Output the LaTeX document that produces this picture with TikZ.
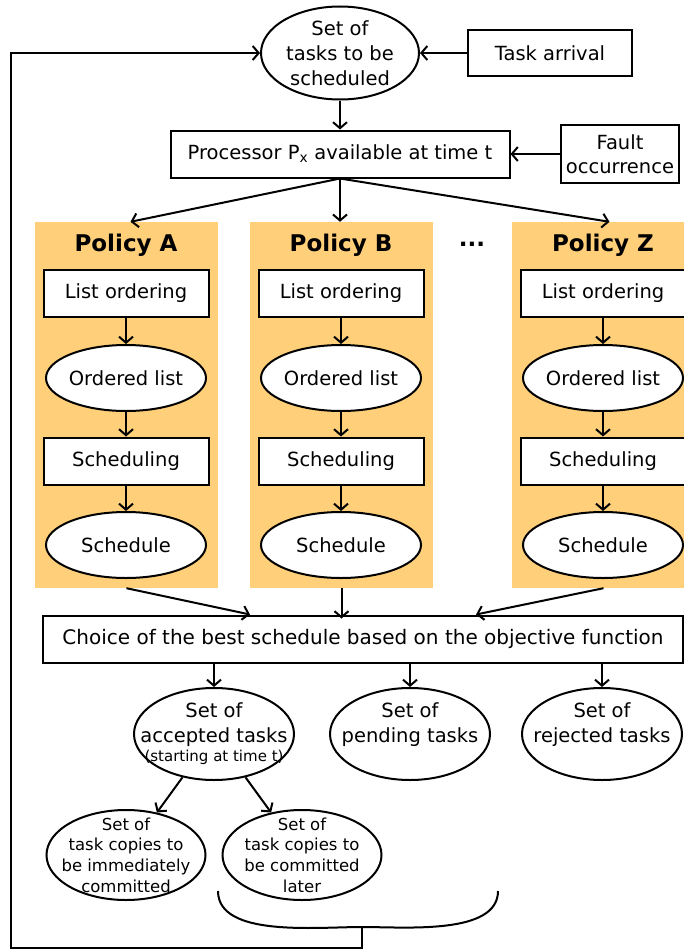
\documentclass[tikz,border=0pt]{standalone}
\usepackage{fontspec}
\setmainfont{DejaVu Sans}
\usetikzlibrary{positioning,shapes.geometric,arrows.meta}
\definecolor{policyfill}{HTML}{FFCF7A}
\tikzset{
  box/.style={draw,line width=2pt,fill=white,inner sep=0pt,align=center},
  oval/.style={ellipse,draw,line width=2pt,fill=white,inner sep=0pt},
  panel/.style={fill=policyfill,minimum width=183,minimum height=366,inner sep=0pt},
  flow/.style={line width=2pt,-{Straight Barb[length=6pt,width=14pt]}},
  txt/.style={align=center,inner sep=0pt},
  smalltxt/.style={align=center,inner sep=0pt,font=\fontsize{16.5}{20.7}\selectfont},
}
\begin{document}
\begin{tikzpicture}[x=1pt,y=-1pt,font=\fontsize{19.5}{25}\selectfont]
  \useasboundingbox (0,0) rectangle (684,950);
  \clip (0,0) rectangle (684,950);

  % top of the loop
  \node[oval,minimum width=158,minimum height=93,
        label={[txt]center:Set of\\tasks to be\\scheduled}] (tasks) at (340,53) {};
  \node[box,minimum width=164,minimum height=46] (arrival) at (550,53) {Task arrival};
  \node[box,minimum width=339,minimum height=47] (proc) at (340,154) {Processor P\textsubscript{x} available at time t};
  \node[box,minimum width=118,minimum height=58,font=\fontsize{19.5}{24}\selectfont] (fault) at (620,154) {Fault\\occurrence};

  \draw[flow] (arrival) -- (tasks);
  \draw[flow] (tasks) -- (proc);
  \draw[flow] (fault) -- (proc);

  % one column per policy
  \foreach \px/\pname/\pid in {126/A/a,341/B/b,603/Z/z}{
    \node[panel] (panel\pid) at (\px+0.5,405) {};
    \node[txt,font=\fontsize{23}{25}\bfseries] (title\pid) at (\px,245) {Policy \pname};
    \node[box,minimum width=165,minimum height=47] (order\pid) at (\px,293) {List ordering};
    \node[oval,minimum width=160,minimum height=66,
          label={[txt]center:Ordered list}] (olist\pid) at (\px,378) {};
    \node[box,minimum width=165,minimum height=47] (sched\pid) at (\px,461) {Scheduling};
    \node[oval,minimum width=160,minimum height=66,
          label={[txt]center:Schedule}] (result\pid) at (\px,545) {};
    \draw[flow] (order\pid) -- (olist\pid);
    \draw[flow] (olist\pid) -- (sched\pid);
    \draw[flow] (sched\pid) -- (result\pid);
  }
  \node[txt,font=\fontsize{23}{25}\bfseries] (dots) at (472,244) {...};

  \draw[flow] (proc.south) -- ([xshift=4pt]panela.north);
  \draw[flow] (proc.south) -- (panelb.north -| proc.south);
  \draw[flow] (proc.south) -- ([xshift=6pt]panelz.north);

  % choice of the schedule
  \node[box,minimum width=640,minimum height=47,font=\fontsize{20}{25}\selectfont] (choice) at (363,639) {Choice of the best schedule based on the objective function};
  \draw[flow] (panela.south) -- ([xshift=-113pt]choice.north);
  \draw[flow] (panelb.south) -- ([yshift=-4pt]choice.north -| panelb.south);
  \draw[flow] (panelz.south) -- ([xshift=113pt]choice.north);

  \node[oval,minimum width=160,minimum height=92,
        label={[txt]center:{Set of\\accepted tasks\\[-6pt]{\fontsize{15}{16}\selectfont(starting at time t)}}}] (accepted) at (214,734) {};
  \node[oval,minimum width=160,minimum height=92,
        label={[txt,yshift=9pt]center:Set of\\pending tasks}] (pending) at (410,734) {};
  \node[oval,minimum width=160,minimum height=92,
        label={[txt,yshift=9pt]center:Set of\\rejected tasks}] (rejected) at (602,734) {};
  \draw[flow] (choice.south -| accepted.north) -- (accepted.north);
  \draw[flow] (choice.south -| pending.north) -- (pending.north);
  \draw[flow] (choice.south -| rejected.north) -- (rejected.north);

  \node[oval,minimum width=159,minimum height=90,
        label={[smalltxt]center:Set of\\task copies to\\be immediately\\committed}] (now) at (126,855) {};
  \node[oval,minimum width=159,minimum height=90,
        label={[smalltxt]center:Set of\\task copies to\\be committed\\later}] (later) at (302,855) {};
  \draw[flow] (accepted) -- (now);
  \draw[flow] (accepted) -- (later);

  % brace and feedback loop
  \coordinate (brace) at (362,927);
  \draw[line width=2pt] (218,891) to[out=-90,in=180,looseness=0.8] (brace) to[out=0,in=-90,looseness=0.8] (498,891);
  \draw[flow] (brace) -- (brace |- 0,948) -| (11,53) -- (tasks.west);
\end{tikzpicture}
\end{document}
